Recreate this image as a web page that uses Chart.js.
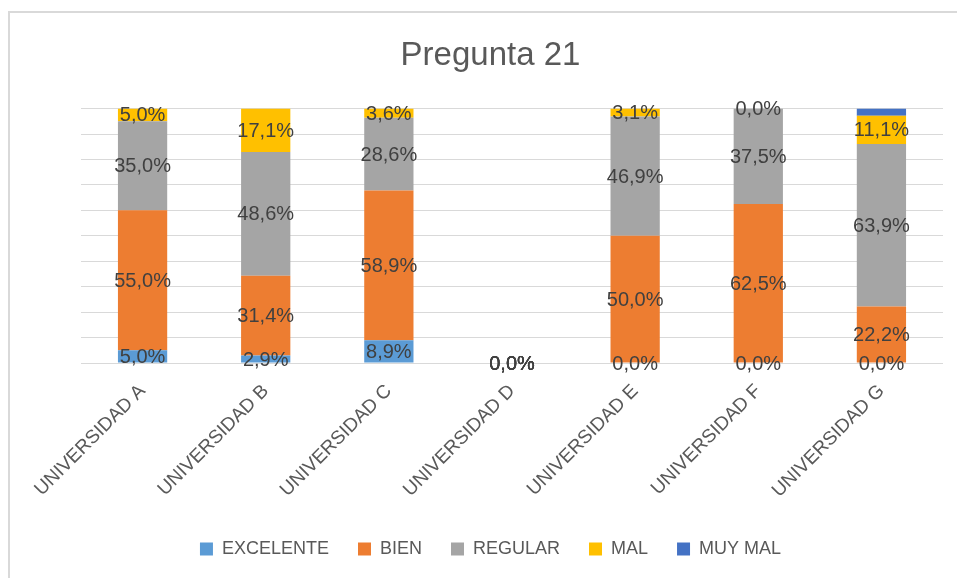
<!DOCTYPE html>
<html>
<head>
<meta charset="utf-8">
<script src="https://cdn.jsdelivr.net/npm/chart.js@4.4.1/dist/chart.umd.min.js"></script>
<style>
  body { margin: 0; background: #fff; }
  #wrap { width: 957px; height: 578px; }
</style>
</head>
<body>
<div id="wrap"><canvas id="grafico" width="957" height="578"></canvas></div>
<script>
// datos de la pregunta 21 (porcentajes)
const universidades = ['UNIVERSIDAD A', 'UNIVERSIDAD B', 'UNIVERSIDAD C', 'UNIVERSIDAD D', 'UNIVERSIDAD E', 'UNIVERSIDAD F', 'UNIVERSIDAD G'];
const excelente = [5.0, 2.9, 8.9, 0, 0, 0, 0];
const bien      = [55.0, 31.4, 58.9, 0, 50.0, 62.5, 22.2];
const regular   = [35.0, 48.6, 28.6, 0, 46.9, 37.5, 63.9];
const mal       = [5.0, 17.1, 3.6, 0, 3.1, 0, 11.1];
const muyMal    = [0, 0, 0, 0, 0, 0, 2.8];

const fuente = 'Liberation Sans, Arial, sans-serif';

// etiquetas dentro de cada segmento (como en excel)
const etiquetas = {
    id: 'etiquetas',
    afterDatasetsDraw(chart) {
        const ctx = chart.ctx;
        ctx.save();
        ctx.font = '20px ' + fuente;
        ctx.fillStyle = '#404040';
        ctx.textAlign = 'center';
        ctx.textBaseline = 'middle';
        chart.data.datasets.forEach((ds, i) => {
            if (ds.sinEtiqueta) return;
            chart.getDatasetMeta(i).data.forEach((bar, j) => {
                const p = bar.getProps(['x', 'y', 'base'], true);
                const txt = ds.data[j].toFixed(1).replace('.', ',') + '%';
                ctx.fillText(txt, p.x, (p.y + p.base) / 2 + 1);
            });
        });
        ctx.restore();
    }
};

// borde gris del area del grafico
const borde = {
    id: 'borde',
    beforeDraw(chart) {
        const ctx = chart.ctx;
        ctx.save();
        ctx.strokeStyle = '#d9d9d9';
        ctx.lineWidth = 2;
        ctx.beginPath();
        ctx.moveTo(9, 578);
        ctx.lineTo(9, 12);
        ctx.lineTo(957, 12);
        ctx.stroke();
        ctx.restore();
    }
};

let data = {
    labels: universidades,
    datasets: [
        { label: 'EXCELENTE', data: excelente, backgroundColor: '#5B9BD5' },
        { label: 'BIEN', data: bien, backgroundColor: '#ED7D31' },
        { label: 'REGULAR', data: regular, backgroundColor: '#A5A5A5' },
        { label: 'MAL', data: mal, backgroundColor: '#FFC000' },
        { label: 'MUY MAL', data: muyMal, backgroundColor: '#4472C4', sinEtiqueta: true }
    ]
};

new Chart(document.getElementById('grafico').getContext('2d'), {
    type: 'bar',
    data: data,
    plugins: [borde, etiquetas],
    options: {
        responsive: false,
        animation: false,
        barPercentage: 0.4,
        categoryPercentage: 1,
        layout: { padding: { left: 24, right: 0, top: 0, bottom: 10 } },
        plugins: {
            tooltip: { enabled: false },
            title: {
                display: true,
                text: 'Pregunta 21',
                color: '#595959',
                font: { family: fuente, size: 33, weight: 'normal', lineHeight: 1.2 },
                padding: { top: 36, bottom: 33 }
            },
            legend: {
                position: 'bottom',
                labels: {
                    color: '#595959',
                    font: { family: fuente, size: 18 },
                    boxWidth: 13,
                    boxHeight: 13,
                    padding: 29
                }
            }
        },
        scales: {
            x: {
                stacked: true,
                grid: { display: false },
                border: { display: false },
                ticks: {
                    color: '#595959',
                    font: { family: fuente, size: 19 },
                    minRotation: 45,
                    maxRotation: 45,
                    padding: 9
                },
                afterFit: (scale) => { scale.height = 148; }
            },
            y: {
                stacked: true,
                min: 0,
                max: 100,
                border: { display: false },
                grid: { color: '#d9d9d9', drawTicks: false },
                ticks: { display: false, stepSize: 10 },
                afterFit: (scale) => { scale.width = 57; }
            },
            // eje vacio solo para dejar margen a la derecha
            derecha: {
                position: 'right',
                min: 0,
                max: 100,
                grid: { display: false },
                border: { display: false },
                ticks: { display: false },
                afterFit: (scale) => { scale.width = 14; }
            }
        }
    }
});
</script>
</body>
</html>
